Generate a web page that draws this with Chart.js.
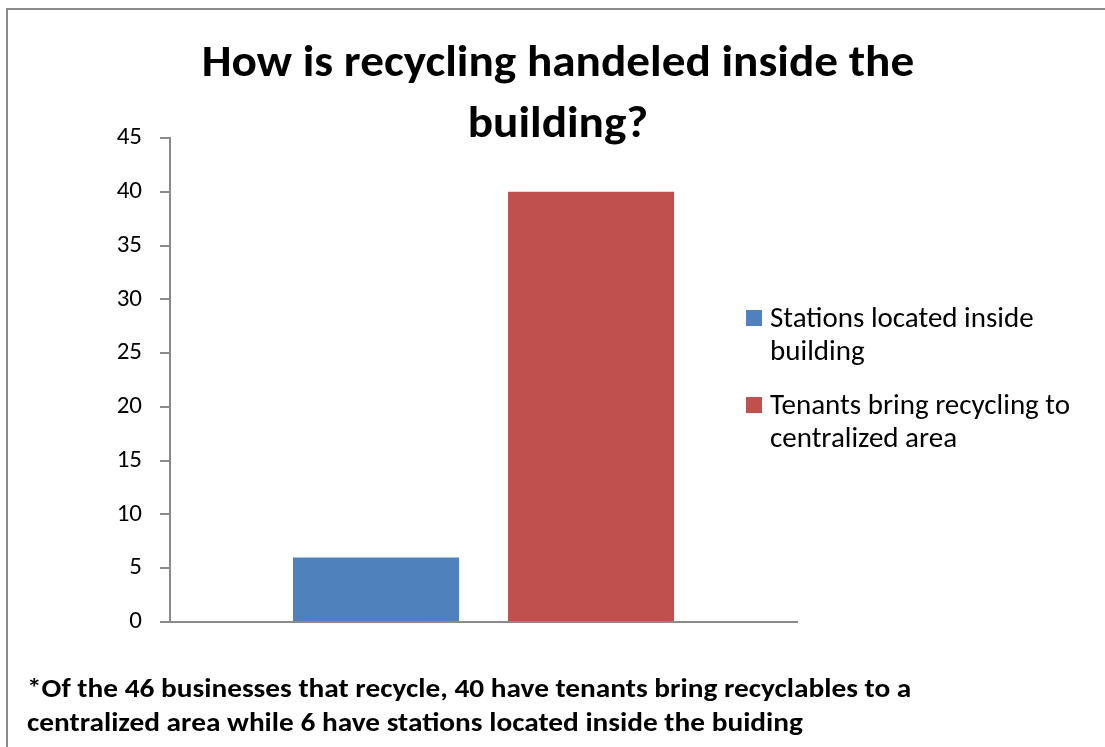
<!DOCTYPE html>
<html>
<head>
<meta charset="utf-8">
<script src="https://cdn.jsdelivr.net/npm/chart.js@4/dist/chart.umd.min.js"></script>
<style>
  html, body { margin: 0; padding: 0; background: #fff; overflow: hidden; }
  body { width: 1105px; height: 747px; position: relative; font-family: Carlito, Lato, sans-serif; color: #000; }
  .edge { position: absolute; background: #8a8a8a; }
  #edgeTop { left: 6px; top: 8px; width: 1099px; height: 2px; }
  #edgeLeft { left: 6px; top: 8px; width: 2px; height: 739px; }
  #wrap { position: absolute; left: 0; top: 0; width: 1105px; height: 747px; }
  #title { position: absolute; left: 158px; width: 800px; top: 30px; text-align: center; font-weight: bold; font-size: 45px; line-height: 61px; white-space: nowrap; transform: scaleX(1.05); transform-origin: 400px 0; }
  #legend { position: absolute; left: 746px; top: 301px; font-size: 29px; line-height: 33px; white-space: nowrap; }
  .item { position: relative; padding-left: 24px; margin-bottom: 21px; }
  .box { position: absolute; left: 0; top: 9px; width: 16px; height: 16px; }
  #note { position: absolute; left: 27px; top: 671px; font-weight: bold; font-size: 26px; line-height: 34px; white-space: nowrap; transform: scaleX(1.128); transform-origin: 0 0; }
</style>
</head>
<body>
<div class="edge" id="edgeTop"></div>
<div class="edge" id="edgeLeft"></div>
<div id="wrap"><canvas id="graph" width="1105" height="747"></canvas></div>
<div id="title">How is recycling handeled inside the<br>building?</div>
<div id="legend"></div>
<div id="note">*Of the 46 businesses that recycle, 40 have tenants bring recyclables to a<br>centralized area while 6 have stations located inside the buiding</div>
<script>
var categories = [""];
var seriesNames = [["Stations located inside", "building"], ["Tenants bring recycling to", "centralized area"]];
var stations = [6];
var tenants = [40];
var colors = ["#4F81BD", "#C0504D"];
var yTicks = [0, 5, 10, 15, 20, 25, 30, 35, 40, 45];

var ctx = document.getElementById("graph");
var graph = new Chart(ctx, {
	type: "bar",
	data: {
		labels: categories,
		datasets: [{
			label: seriesNames[0].join(" "),
			data: stations,
			backgroundColor: colors[0],
		}, {
			label: seriesNames[1].join(" "),
			data: tenants,
			backgroundColor: colors[1],
		}]
	},
	options: {
		responsive: false,
		animation: false,
		categoryPercentage: 0.686,
		barPercentage: 0.772,
		layout: { padding: { left: 0, top: 138, right: 308, bottom: 125 } },
		plugins: { legend: { display: false }, title: { display: false }, tooltip: { enabled: false } },
		scales: {
			x: {
				grid: { display: false },
				ticks: { display: false },
				border: { color: "#8a8a8a", width: 2 },
				afterFit: function (s) { s.height = 0; }
			},
			y: {
				min: 0,
				max: 45,
				afterBuildTicks: function (s) { s.ticks = yTicks.map(function (v) { return { value: v }; }); },
				grid: { drawOnChartArea: false, tickLength: 10, color: "#8a8a8a", lineWidth: 2 },
				border: { color: "#8a8a8a", width: 2 },
				ticks: { color: "#000", padding: 18, font: { family: "Carlito, Lato", size: 25 } },
				afterFit: function (s) { s.width = 170; }
			}
		}
	}
});

var legend = document.getElementById("legend");
seriesNames.forEach(function (lines, i) {
	var d = document.createElement("div");
	d.className = "item";
	d.innerHTML = '<span class="box" style="background:' + colors[i] + '"></span>' + lines.join("<br>");
	legend.appendChild(d);
});
</script>
</body>
</html>
